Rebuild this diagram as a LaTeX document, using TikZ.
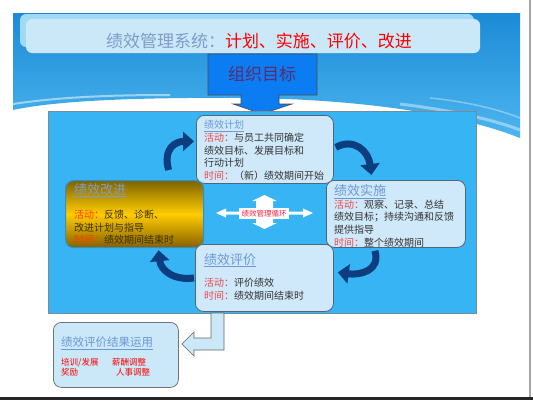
\documentclass[tikz,border=0pt]{standalone}
\usepackage{fontspec}
\setmainfont{Noto Sans CJK SC}
\usetikzlibrary{arrows.meta}

\definecolor{skytop}{HTML}{1C8AD6}
\definecolor{skylow}{HTML}{4DB6EF}
\definecolor{titlefill}{HTML}{CBE8F8}
\definecolor{titleshade}{HTML}{9FD9F3}
\definecolor{titlegray}{HTML}{7F9CCB}
\definecolor{orgblue}{HTML}{0B7CF2}
\definecolor{orgtext}{HTML}{5B2C6F}
\definecolor{cycleblue}{HTML}{36B4F4}
\definecolor{rimgray}{HTML}{7A8A99}
\definecolor{cardfill}{HTML}{CFE9FA}
\definecolor{cardline}{HTML}{50657A}
\definecolor{headblue}{HTML}{6C98D6}
\definecolor{actred}{HTML}{F0454A}
\definecolor{bodytext}{HTML}{333333}
\definecolor{golddark}{HTML}{7D6400}
\definecolor{goldlight}{HTML}{FFCC00}
\definecolor{goldbottom}{HTML}{856000}
\definecolor{goldline}{HTML}{2F8FD0}
\definecolor{goldtext}{HTML}{3B3000}
\definecolor{goldred}{HTML}{FF3A00}
\definecolor{navy}{HTML}{0C3D7E}
\definecolor{loopred}{HTML}{FF2040}

\newcommand{\cardhead}[1]{\textcolor{headblue}{\underline{#1}}}
\newcommand{\actlabel}[1]{\textcolor{actred}{#1}}

\begin{document}
\begin{tikzpicture}[x=1pt,y=-1pt,
    every node/.style={inner sep=0pt},
    card/.style={draw=cardline, line width=0.8pt, fill=cardfill, rounded corners=8pt, anchor=north west},
    cardtext/.style={anchor=north west, align=left, text=bodytext, font=\fontsize{10}{12.6}\selectfont},
    turn/.style={line width=7pt, draw=navy, -{Triangle[width=19pt,length=11pt]}}]
    \useasboundingbox (0,0) rectangle (533,400);
    \fill [white] (0,0) rectangle (533,400);
    % slide background
    \shade [top color=skytop, bottom color=skylow] (13,13) -- (520,13) -- (520,138)
        .. controls (470,118) and (380,100) .. (250,98)
        .. controls (120,97) and (50,102) .. (13,110) -- cycle;
    \draw [white, opacity=0.5, line width=2pt] (13,104) .. controls (60,97) and (110,95) .. (170,95);
    \draw [white, opacity=0.4, line width=3pt] (400,104) .. controls (450,110) and (495,120) .. (520,130);
    \draw [white, opacity=0.35, line width=1.5pt] (430,98) .. controls (470,102) and (500,110) .. (520,118);
    \draw [gray!70, line width=2pt] (530,0) -- (530,397);
    \fill [black!85] (0,397) rectangle (533,400);
    % title
    \fill [titleshade, rounded corners=6pt] (20,14) rectangle (474,47);
    \node [fill=titlefill, rounded corners=6pt, minimum width=454pt, minimum height=34pt] (title) at (253,36) {};
    \node [font=\fontsize{17}{17}\selectfont] (titletext) at (259,41)
        {\textcolor{titlegray}{绩效管理系统：}\textcolor{red}{计划、实施、评价、改进}};
    % goal arrow
    \draw [fill=orgblue, draw=black!70, line width=0.6pt] (208,54) -- (317,54) -- (317,95) -- (279,95)
        -- (279,104) -- (292,104) -- (262,114) -- (233,104) -- (241,104) -- (241,95) -- (208,95) -- cycle;
    \node [text=orgtext, font=\fontsize{17}{17}\selectfont] (goal) at (262,74) {组织目标};
    % cycle panel
    \node [draw=rimgray, fill=cycleblue, minimum width=428pt, minimum height=202pt, anchor=north west] (cycle) at (48,111) {};
    % cards
    \node [card, minimum width=137pt, minimum height=68pt] (plan) at (196,115) {};
    \node [cardtext] (plantext) at ([xshift=8pt,yshift=-5.3pt]plan.north west)
        {\cardhead{绩效计划}\\ \actlabel{活动：}与员工共同确定\\ 绩效目标、发展目标和\\ 行动计划\\ \actlabel{时间：}（新）绩效期间开始};
    \node [card, minimum width=139pt, minimum height=67pt] (impl) at (326,180) {};
    \node [cardtext] (impltext) at ([xshift=8pt,yshift=-4.5pt]impl.north west)
        {{\fontsize{13}{13}\selectfont\cardhead{绩效实施}}\\ \actlabel{活动：}观察、记录、总结\\ 绩效目标；持续沟通和反馈\\ 提供指导\\ \actlabel{时间：}整个绩效期间};
    \node [card, draw=goldline, line width=1.2pt, top color=golddark, bottom color=goldbottom, middle color=goldlight,
        minimum width=138pt, minimum height=67pt] (improve) at (65,180) {};
    \node [cardtext, text=goldtext] (improvetext) at ([xshift=9pt,yshift=-3pt]improve.north west)
        {{\fontsize{13}{13}\selectfont\textcolor{titlegray}{\underline{绩效改进}}}\\[12pt] \textcolor{goldred}{活动：}反馈、诊断、\\ 改进计划与指导\\ \textcolor{goldred}{时间：}绩效期间结束时};
    \node [card, minimum width=138pt, minimum height=67pt] (eval) at (195,244) {};
    \node [cardtext] (evaltext) at ([xshift=9pt,yshift=-9pt]eval.north west)
        {{\fontsize{13}{13}\selectfont\cardhead{绩效评价}}\\[10pt] \actlabel{活动：}评价绩效\\ \actlabel{时间：}绩效期间结束时};
    % loop arrows
    \draw [turn] ([xshift=34pt,yshift=10pt]improve.north) .. controls +(-6,-22) and +(-18,0) .. ([xshift=-2pt,yshift=8pt]plan.west);
    \draw [turn] ([xshift=2pt,yshift=2pt]plan.east) .. controls +(18,-10) and +(-3,-24) .. ([xshift=-24.5pt,yshift=5pt]impl.north);
    \draw [turn] ([xshift=-21pt,yshift=-3pt]impl.south) .. controls +(6,20) and +(22,3) .. ([xshift=4pt,yshift=5.5pt]eval.east);
    \draw [turn] ([xshift=-1pt]eval.west) .. controls +(-20,3) and +(2,20) .. ([xshift=24pt,yshift=-2pt]improve.south);
    % centre cross
    \fill [white] (264.5,195) -- (277,201) -- (273,201) -- (273,223) -- (277,223) -- (264.5,229)
        -- (252,223) -- (256,223) -- (256,201) -- (252,201) -- cycle;
    \fill [white] (216,213) -- (226,208.5) -- (226,211.5) -- (303,211.5) -- (303,208.5) -- (313,213)
        -- (303,217.5) -- (303,214.5) -- (226,214.5) -- (226,217.5) -- cycle;
    \node [fill=white, minimum width=50pt, minimum height=11pt, text=loopred, font=\fontsize{7.5}{7.5}\selectfont] (loop) at (264,213.5) {绩效管理循环};
    % result arrow and box
    \draw [fill=titlefill, draw=black!60, line width=0.6pt] (211,313) -- (224,313) -- (224,350) -- (194,350)
        -- (194,356) -- (182,344) -- (194,332) -- (194,338) -- (211,338) -- cycle;
    \node [card, draw=black!55, fill=titlefill, minimum width=125pt, minimum height=65pt] (usage) at (53,322) {};
    \node [anchor=north west, font=\fontsize{11.5}{11.5}\selectfont] (usagehead) at ([xshift=8pt,yshift=-15pt]usage.north west) {\cardhead{绩效评价结果运用}};
    \node [anchor=north west, align=left, text=red, font=\fontsize{8.5}{10}\selectfont] (usagetext) at ([xshift=8pt,yshift=-36pt]usage.north west)
        {\makebox[51pt][l]{培训/发展}薪酬调整\\ \makebox[55pt][l]{奖励}人事调整};
\end{tikzpicture}
\end{document}
